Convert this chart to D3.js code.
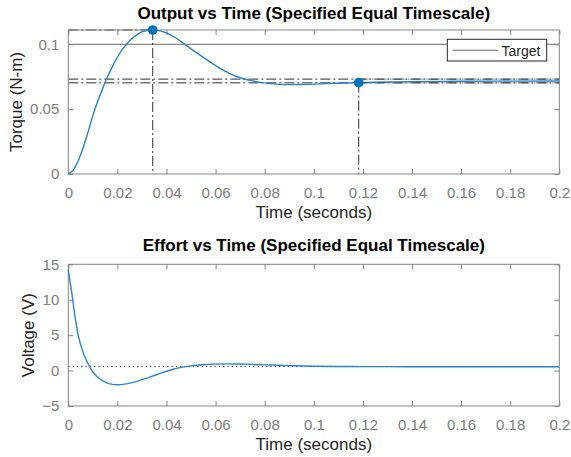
<!DOCTYPE html>
<html>
<head>
<meta charset="utf-8">
<script src="https://cdn.jsdelivr.net/npm/d3@7"></script>
<style>
  html, body { margin: 0; padding: 0; background: #fff; }
  svg { display: block; font-family: "Liberation Sans", Arial, Helvetica, sans-serif; }
</style>
</head>
<body>
<svg id="chart" width="571" height="457"></svg>
<script>
// Step response of the output torque (seconds, N-m)
const outTime = [0, 0.002, 0.004, 0.006, 0.008, 0.010, 0.012, 0.014, 0.016, 0.018,
  0.020, 0.022, 0.024, 0.026, 0.028, 0.030, 0.032, 0.0344, 0.037, 0.040,
  0.043, 0.046, 0.050, 0.054, 0.058, 0.062, 0.066, 0.070, 0.075, 0.080,
  0.085, 0.090, 0.095, 0.100, 0.105, 0.110, 0.1183, 0.130, 0.140, 0.160, 0.200];
const outTorque = [0, 0.003, 0.010, 0.020, 0.032, 0.045, 0.056, 0.066, 0.075, 0.083,
  0.090, 0.096, 0.1005, 0.1045, 0.1075, 0.1095, 0.1106, 0.1110, 0.1105, 0.1087,
  0.1058, 0.1020, 0.0965, 0.0912, 0.0860, 0.0812, 0.0772, 0.0742, 0.0718, 0.0702,
  0.0693, 0.0689, 0.0690, 0.0693, 0.0697, 0.0700, 0.0704, 0.0709, 0.0712, 0.0715, 0.0717];

// Control effort (seconds, volts)
const effTime = [0, 0.0014, 0.0027, 0.0041, 0.006, 0.008, 0.010, 0.012, 0.014, 0.016,
  0.018, 0.020, 0.023, 0.026, 0.030, 0.034, 0.038, 0.042, 0.046, 0.050,
  0.055, 0.060, 0.065, 0.070, 0.075, 0.080, 0.090, 0.100, 0.110, 0.120, 0.140, 0.200];
const effVoltage = [14.2, 11.0, 7.7, 4.9, 2.6, 1.0, -0.2, -0.95, -1.45, -1.78,
  -1.95, -2.0, -1.92, -1.7, -1.28, -0.82, -0.32, 0.12, 0.45, 0.66,
  0.82, 0.91, 0.94, 0.92, 0.87, 0.81, 0.70, 0.62, 0.58, 0.56, 0.55, 0.55];

// Step-response characteristics
const targetTorque = 0.1;
const peakTime = 0.0344, peakTorque = 0.1110;
const settleTime = 0.1183, settleTorque = 0.0704;
const finalTorque = 0.0717;
const settleBand = [finalTorque * 0.98, finalTorque * 1.02];
const finalVoltage = 0.56;

// Axis ticks
const timeTicks = [0, 0.02, 0.04, 0.06, 0.08, 0.1, 0.12, 0.14, 0.16, 0.18, 0.2];
const torqueTicks = [0, 0.05, 0.1];
const voltageTicks = [-5, 0, 5, 10, 15];

const svg = d3.select("#chart");
const BLUE = "#0072BD";
const LINEBLUE = "#2a84cc";
const AXIS = "#858585";
const TICKTXT = "#7d7d7d";
const DARK = "#262626";

const left = 68.3, right = 559.3;
const panels = [
  { top: 30, bottom: 174 },
  { top: 264.3, bottom: 406 }
];

const x = d3.scaleLinear().domain([0, 0.2]).range([left, right]);
const yOut = d3.scaleLinear().domain([0, peakTorque]).range([panels[0].bottom, panels[0].top]);
const yEff = d3.scaleLinear().domain([-5, 15]).range([panels[1].bottom, panels[1].top]);

function fmt(d) { return d3.format("~g")(d); }

function drawAxes(p, y, yTicks) {
  const g = svg.append("g");
  const xb = g.append("g").attr("transform", `translate(0,${p.bottom})`)
    .call(d3.axisBottom(x).tickValues(timeTicks).tickFormat(fmt)
      .tickSizeInner(-5).tickSizeOuter(0).tickPadding(13));
  const xt = g.append("g").attr("transform", `translate(0,${p.top})`)
    .call(d3.axisTop(x).tickValues(timeTicks).tickFormat("")
      .tickSizeInner(-5).tickSizeOuter(0));
  const yl = g.append("g").attr("transform", `translate(${left},0)`)
    .call(d3.axisLeft(y).tickValues(yTicks).tickFormat(fmt)
      .tickSizeInner(-5).tickSizeOuter(0).tickPadding(9));
  const yr = g.append("g").attr("transform", `translate(${right},0)`)
    .call(d3.axisRight(y).tickValues(yTicks).tickFormat("")
      .tickSizeInner(-5).tickSizeOuter(0));
  [xb, xt, yl, yr].forEach(a => {
    a.select(".domain").remove();
    a.selectAll("line").attr("stroke", AXIS);
    a.selectAll("text").attr("fill", TICKTXT).style("font-size", "15px")
      .style("font-family", "Liberation Sans, Arial, sans-serif");
  });
  g.append("rect").attr("x", left).attr("y", p.top)
    .attr("width", right - left).attr("height", p.bottom - p.top)
    .attr("fill", "none").attr("stroke", AXIS).attr("stroke-width", 1);
}

function addText(txt, xx, yy, opts) {
  const t = svg.append("text").attr("x", xx).attr("y", yy)
    .attr("text-anchor", "middle").attr("fill", opts.fill || DARK)
    .style("font-size", opts.size + "px")
    .style("font-weight", opts.bold ? "bold" : "normal")
    .text(txt);
  if (opts.rotate) t.attr("transform", `rotate(-90,${xx},${yy})`);
  return t;
}

// ---------- Output panel ----------
const p0 = panels[0];
const DASHDOT = "10,3,2,3";
const REF = "#2f2f2f";

// settling band
settleBand.forEach(v => {
  svg.append("line").attr("x1", left).attr("x2", right)
    .attr("y1", yOut(v)).attr("y2", yOut(v))
    .attr("stroke", REF).attr("stroke-width", 1).attr("stroke-dasharray", DASHDOT);
});
// target
svg.append("line").attr("x1", left).attr("x2", right)
  .attr("y1", yOut(targetTorque)).attr("y2", yOut(targetTorque))
  .attr("stroke", "#6a6a6a").attr("stroke-width", 1);
// peak guides
svg.append("line").attr("x1", left).attr("x2", x(peakTime))
  .attr("y1", yOut(peakTorque)).attr("y2", yOut(peakTorque))
  .attr("stroke", REF).attr("stroke-width", 1).attr("stroke-dasharray", DASHDOT);
svg.append("line").attr("x1", x(peakTime)).attr("x2", x(peakTime))
  .attr("y1", yOut(peakTorque)).attr("y2", p0.bottom)
  .attr("stroke", REF).attr("stroke-width", 1).attr("stroke-dasharray", DASHDOT);
// settling guide
svg.append("line").attr("x1", x(settleTime)).attr("x2", x(settleTime))
  .attr("y1", yOut(settleTorque)).attr("y2", p0.bottom)
  .attr("stroke", REF).attr("stroke-width", 1).attr("stroke-dasharray", DASHDOT);

drawAxes(p0, yOut, torqueTicks);

const outLine = d3.line().x(d => x(d[0])).y(d => yOut(d[1])).curve(d3.curveMonotoneX);
svg.append("path").datum(d3.zip(outTime, outTorque))
  .attr("d", outLine).attr("fill", "none").attr("stroke", LINEBLUE).attr("stroke-width", 1.4);

// band overlay drawn on top of the response on the right
settleBand.forEach(v => {
  svg.append("line").attr("x1", x(settleTime)).attr("x2", right)
    .attr("y1", yOut(v)).attr("y2", yOut(v))
    .attr("stroke", REF).attr("stroke-width", 0.8).attr("stroke-dasharray", DASHDOT)
    .attr("opacity", 0.7);
});

svg.append("circle").attr("cx", x(peakTime)).attr("cy", yOut(peakTorque)).attr("r", 4.8).attr("fill", BLUE);
svg.append("circle").attr("cx", x(settleTime)).attr("cy", yOut(settleTorque)).attr("r", 4.8).attr("fill", BLUE);

// legend
const lg = svg.append("g");
lg.append("rect").attr("x", 447.3).attr("y", 39.3).attr("width", 99.4).attr("height", 21.7)
  .attr("fill", "#fff").attr("stroke", DARK).attr("stroke-width", 1);
lg.append("line").attr("x1", 452.7).attr("x2", 498.3).attr("y1", 50.2).attr("y2", 50.2)
  .attr("stroke", "#6a6a6a").attr("stroke-width", 1);
lg.append("text").attr("x", 501.5).attr("y", 55.5).attr("fill", DARK)
  .style("font-size", "14px").text("Target");

addText("Output vs Time (Specified Equal Timescale)", (left + right) / 2, 19, { size: 17, bold: true, fill: "#000" });
addText("Time (seconds)", (left + right) / 2, 218, { size: 17 });
addText("Torque (N-m)", 22, (p0.top + p0.bottom) / 2, { size: 17, rotate: true });

// ---------- Effort panel ----------
const p1 = panels[1];
svg.append("line").attr("x1", left).attr("x2", right)
  .attr("y1", yEff(finalVoltage)).attr("y2", yEff(finalVoltage))
  .attr("stroke", "#3a3a3a").attr("stroke-width", 1).attr("stroke-dasharray", "1.3,3");

drawAxes(p1, yEff, voltageTicks);

const effLine = d3.line().x(d => x(d[0])).y(d => yEff(d[1])).curve(d3.curveMonotoneX);
svg.append("path").datum(d3.zip(effTime, effVoltage))
  .attr("d", effLine).attr("fill", "none").attr("stroke", LINEBLUE).attr("stroke-width", 1.4);

addText("Effort vs Time (Specified Equal Timescale)", (left + right) / 2, 251, { size: 17, bold: true, fill: "#000" });
addText("Time (seconds)", (left + right) / 2, 449.5, { size: 17 });
addText("Voltage (V)", 34.5, (p1.top + p1.bottom) / 2, { size: 17, rotate: true });
</script>
</body>
</html>
